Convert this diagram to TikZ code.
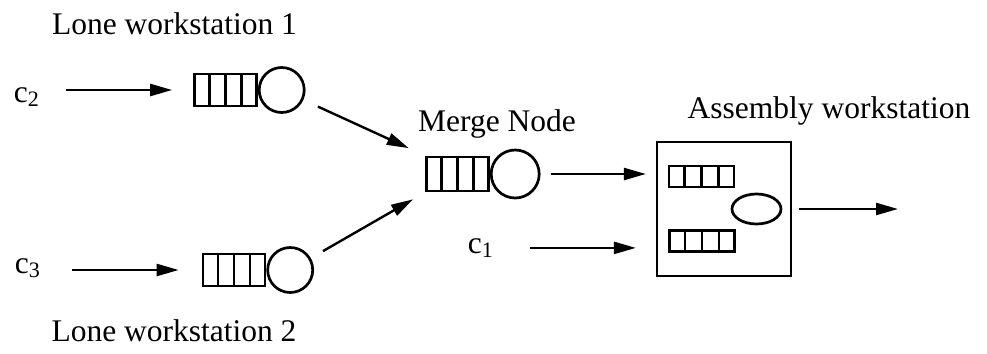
\documentclass[tikz,border=0pt]{standalone}
\usepackage{fontspec}
\setmainfont{Liberation Serif}
\usetikzlibrary{arrows.meta,calc,shapes.geometric}
\tikzset{
  buf/.style={draw,line width=1.35pt,minimum width=31pt,minimum height=16pt,inner sep=0pt},
  smallbuf/.style={buf,minimum width=32.5pt,minimum height=10.5pt},
  srv/.style={draw,circle,line width=1.35pt,minimum size=22.5pt,inner sep=0pt},
  flow/.style={-{Triangle[length=11pt,width=6pt]},line width=1.2pt},
  lbl/.style={font=\fontsize{15.75}{18}\selectfont,anchor=base}
}
\begin{document}
\begin{tikzpicture}[x=0.5pt,y=-0.5pt]
\useasboundingbox (0,0) rectangle (987,354);
% lone workstations
\node[lbl] (tla) at (174.5,34) {Lone workstation 1};
\node[lbl] (tlb) at (174,341) {Lone workstation 2};
\node[lbl] (ctwo) at (27,102) {c\textsubscript{2}};
\node[lbl] (cthree) at (28,273) {c\textsubscript{3}};
\node[buf] (qa) at (225.5,90) {};
\node[srv,anchor=west] (sa) at (qa.east) {};
\node[buf] (qb) at (234,270) {};
\node[srv,anchor=west] (sb) at (qb.east) {};
% merge node
\node[lbl] (tm) at (497,131) {Merge Node};
\node[buf,minimum height=17pt] (qm) at (457.5,174) {};
\node[srv,anchor=west,minimum size=24pt] (sm) at (qm.east) {};
% assembly workstation
\node[lbl] (tas) at (829,118) {Assembly workstation};
\node[draw,line width=1.1pt,minimum width=67pt,minimum height=67pt,inner sep=0pt] (box) at (724,209) {};
\node[smallbuf] (qu) at (701.5,176.5) {};
\node[smallbuf] (ql) at (702,241) {};
\node[draw,ellipse,line width=1.35pt,minimum width=24.5pt,minimum height=15pt,inner sep=0pt] (el) at (756.5,209) {};
\node[lbl] (cone) at (481,253) {c\textsubscript{1}};
\coordinate (out) at (898,209);
% queue cells
\foreach \q in {qa,qb,qm,qu,ql}
  \foreach \k in {1,2,3}
    \draw[line width=1.2pt] ($(\q.north west)!\k/4!(\q.north east)$) -- ($(\q.south west)!\k/4!(\q.south east)$);
% flows
\draw[flow,shorten <=9.5pt,shorten >=10.5pt] (qa.west -| ctwo.east) -- (qa.west);
\draw[flow,shorten <=12pt,shorten >=11.5pt] (qb.west -| cthree.east) -- (qb.west);
\draw[flow,shorten <=8pt,shorten >=9pt] (sa) -- (qm.north west);
\draw[flow,shorten <=7pt,shorten >=7pt] (sb) -- (qm.south west);
\draw[flow,shorten <=5pt,shorten >=5pt] (sm.east) -- (sm.east -| box.west);
\draw[flow,shorten <=14.5pt,shorten >=10pt] (cone.east) -- (cone.east -| box.west);
\draw[flow,shorten <=3.5pt] (el.east -| box.east) -- (out);
\end{tikzpicture}
\end{document}
